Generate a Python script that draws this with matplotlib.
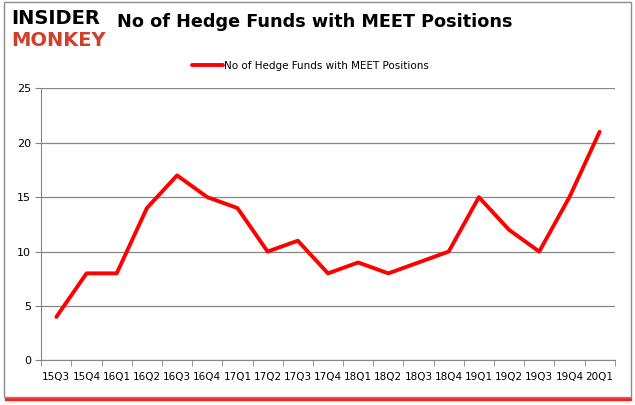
import matplotlib.pyplot as plt
from matplotlib.patches import Rectangle
import numpy as np

quarters = ['15Q3', '15Q4', '16Q1', '16Q2', '16Q3', '16Q4', '17Q1', '17Q2', '17Q3', '17Q4',
            '18Q1', '18Q2', '18Q3', '18Q4', '19Q1', '19Q2', '19Q3', '19Q4', '20Q1']
funds = [4, 8, 8, 14, 17, 15, 14, 10, 11, 8, 9, 8, 9, 10, 15, 12, 10, 15, 21]
y_ticks = [0, 5, 10, 15, 20, 25]

fig = plt.figure(figsize=(6.35, 4.05), dpi=100)
ax = fig.add_axes([0.065, 0.11, 0.903, 0.672])

x = np.arange(len(quarters))
ax.plot(x, funds, color='#ff0000', linewidth=2.8, solid_capstyle='round',
        label='No of Hedge Funds with MEET Positions')

ax.set_xlim(-0.5, len(quarters) - 0.5)
ax.set_ylim(0, 25)
ax.set_yticks(y_ticks)
ax.set_xticks(x)
ax.set_xticklabels(quarters, fontsize=7.5)
ax.set_xticks(np.arange(-0.5, len(quarters)), minor=True)
ax.tick_params(axis='x', which='major', length=0, pad=8)
ax.tick_params(axis='x', which='minor', length=4, color='#868686')
ax.tick_params(axis='y', length=4, color='#868686', labelsize=8)
ax.grid(axis='y', color='#868686', linewidth=0.9)
ax.set_axisbelow(True)
for s in ['top', 'right']:
    ax.spines[s].set_visible(False)
for s in ['left', 'bottom']:
    ax.spines[s].set_color('#868686')

ax.legend(loc='lower center', bbox_to_anchor=(0.47, 1.03), frameon=False,
          fontsize=7.5, handlelength=3, handletextpad=0.1)

fig.text(0.185, 0.945, 'No of Hedge Funds with MEET Positions', fontsize=12.7,
         fontweight='bold', va='center', ha='left')

# logo
fig.text(0.018, 0.955, 'INSIDER', fontsize=14, fontweight='heavy', color='black',
         va='center', ha='left')
fig.text(0.018, 0.90, 'MONKEY', fontsize=14, fontweight='heavy', color='#d13f2b',
         va='center', ha='left')

# border with red shadow
fig.patches.append(Rectangle((0.008, 0.012), 0.985, 0.006, transform=fig.transFigure,
                             color='#ff2020', zorder=0))
fig.patches.append(Rectangle((0.006, 0.02), 0.988, 0.975, transform=fig.transFigure,
                             fill=False, edgecolor='#8c8c8c', linewidth=1, zorder=1))

fig.savefig('out.png', dpi=100)
